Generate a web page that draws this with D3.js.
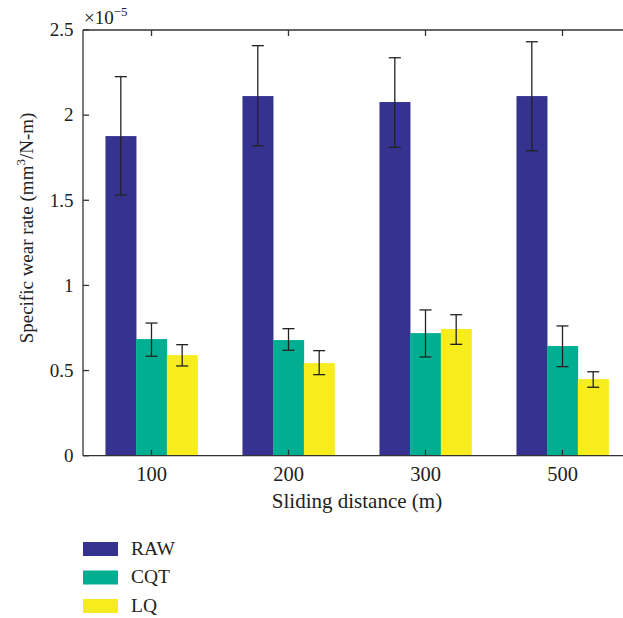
<!DOCTYPE html>
<html><head><meta charset="utf-8">
<script src="https://cdn.jsdelivr.net/npm/d3@7"></script>
<style>body{margin:0;background:#fff}svg{display:block}text{font-family:"Liberation Serif","Times New Roman",serif;fill:#222}</style>
</head><body>
<script>
const categories = ["100","200","300","500"];
const seriesNames = ["RAW","CQT","LQ"];
const colors = ["#35338F","#00AF92","#F7EC1E"];
const rawValues = [1.877, 2.112, 2.077, 2.112];
const cqtValues = [0.685, 0.679, 0.720, 0.644];
const lqValues  = [0.591, 0.544, 0.744, 0.450];
const rawUpper = [2.226, 2.408, 2.337, 2.431];
const rawLower = [1.531, 1.820, 1.811, 1.791];
const cqtUpper = [0.779, 0.746, 0.856, 0.762];
const cqtLower = [0.584, 0.619, 0.580, 0.523];
const lqUpper  = [0.652, 0.617, 0.828, 0.493];
const lqLower  = [0.527, 0.476, 0.654, 0.402];
const yTicks = [0, 0.5, 1, 1.5, 2, 2.5];
const yTickLabels = ["0","0.5","1","1.5","2","2.5"];

const values = [rawValues, cqtValues, lqValues];
const uppers = [rawUpper, cqtUpper, lqUpper];
const lowers = [rawLower, cqtLower, lqLower];

const W = 623, H = 618;
const L = 83, R = 631, T = 30, B = 455.7;
const svg = d3.select("body").append("svg").attr("width", W).attr("height", H);

const x = d3.scaleBand().domain(categories).range([L, R]).paddingInner(0).paddingOuter(0);
const bw = x.bandwidth() * 0.224;
const sub = d3.scaleBand().domain(seriesNames).range([x.bandwidth()/2 - 1.5*bw, x.bandwidth()/2 + 1.5*bw]);
const y = d3.scaleLinear().domain([0, 2.5]).range([B, T]);

// bars
seriesNames.forEach((s, si) => {
  svg.append("g").selectAll("rect").data(categories).join("rect")
    .attr("x", (c) => x(c) + sub(s))
    .attr("width", sub.bandwidth() + 0.3)
    .attr("y", (c, i) => y(values[si][i]))
    .attr("height", (c, i) => y(0) - y(values[si][i]))
    .attr("fill", colors[si]);
});

// error bars
seriesNames.forEach((s, si) => {
  const g = svg.append("g").attr("stroke", "#222").attr("stroke-width", 1.3);
  categories.forEach((c, i) => {
    const cx = x(c) + sub(s) + sub.bandwidth()/2;
    const yu = y(uppers[si][i]), yl = y(lowers[si][i]);
    g.append("line").attr("x1", cx).attr("x2", cx).attr("y1", yu).attr("y2", yl);
    g.append("line").attr("x1", cx-6).attr("x2", cx+6).attr("y1", yu).attr("y2", yu);
    g.append("line").attr("x1", cx-6).attr("x2", cx+6).attr("y1", yl).attr("y2", yl);
  });
});

// axes
const axCol = "#333";
const ax = svg.append("g").attr("stroke", axCol).attr("stroke-width", 1.3);
ax.append("line").attr("x1", L).attr("x2", R).attr("y1", B).attr("y2", B);
ax.append("line").attr("x1", L).attr("x2", R).attr("y1", T).attr("y2", T);
ax.append("line").attr("x1", L).attr("x2", L).attr("y1", T).attr("y2", B);
categories.forEach(c => {
  const cx = x(c) + x.bandwidth()/2;
  ax.append("line").attr("x1", cx).attr("x2", cx).attr("y1", B).attr("y2", B-6);
  ax.append("line").attr("x1", cx).attr("x2", cx).attr("y1", T).attr("y2", T+6);
});
yTicks.forEach(t => {
  ax.append("line").attr("x1", L).attr("x2", L+6).attr("y1", y(t)).attr("y2", y(t));
});

// tick labels
svg.append("g").selectAll("text").data(yTicks).join("text")
  .attr("x", 73.5).attr("y", d => y(d) + 6.3)
  .attr("text-anchor", "end").attr("font-size", 19)
  .text((d, i) => yTickLabels[i]);
svg.append("g").selectAll("text").data(categories).join("text")
  .attr("x", c => x(c) + x.bandwidth()/2).attr("y", 480.7)
  .attr("text-anchor", "middle").attr("font-size", 20.5)
  .text(c => c);

// exponent
const ex = svg.append("text").attr("x", 84).attr("y", 24).attr("font-size", 19);
ex.append("tspan").text("×10");
ex.append("tspan").attr("font-size", 13).attr("dy", -8).text("−5");

// axis titles
svg.append("text").attr("x", 357).attr("y", 508).attr("text-anchor", "middle")
  .attr("font-size", 21).text("Sliding distance (m)");
const yt = svg.append("text").attr("transform", "translate(33,228) rotate(-90)")
  .attr("text-anchor", "middle").attr("font-size", 19);
yt.append("tspan").text("Specific wear rate (mm");
yt.append("tspan").attr("font-size", 13).attr("dy", -8).text("3");
yt.append("tspan").attr("dy", 8).text("/N-m)");

// legend
const lg = svg.append("g");
seriesNames.forEach((s, i) => {
  const yy = 542 + i*28.5;
  lg.append("rect").attr("x", 83).attr("y", yy).attr("width", 35).attr("height", 14).attr("fill", colors[i]);
  lg.append("text").attr("x", 131).attr("y", yy + 12.5).attr("font-size", 19.5).text(s);
});
</script>
</body></html>
